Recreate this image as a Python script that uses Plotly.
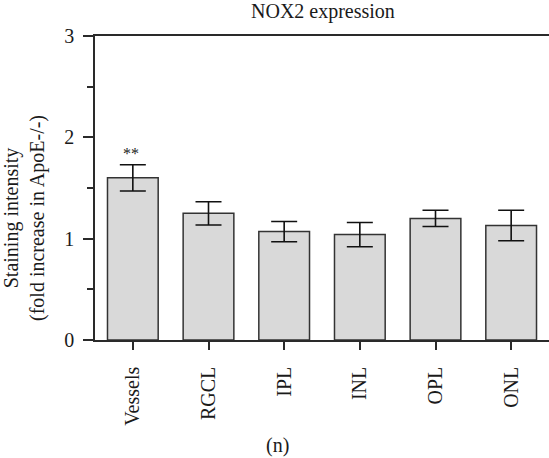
import plotly.graph_objects as go

categories = ["Vessels", "RGCL", "IPL", "INL", "OPL", "ONL"]
means = [1.60, 1.25, 1.07, 1.04, 1.20, 1.13]
errors = [0.13, 0.115, 0.10, 0.12, 0.08, 0.15]
y_ticks = [0, 1, 2, 3]
title_text = "NOX2 expression"
y_label = "Staining intensity<br>(fold increase in ApoE-/-)"
panel_label = "(n)"
sig_label = "**"

FONT = "Liberation Serif"
FS = 20
TXT = "#1a1a1a"
LINE = "#2a2a2a"

fig = go.Figure()
fig.add_trace(go.Bar(
    x=categories, y=means,
    width=0.67,
    marker=dict(color="#d9d9d9", line=dict(color="#333333", width=1.5)),
    error_y=dict(type="data", array=errors, visible=True, color="#111111",
                 thickness=1.6, width=13),
    showlegend=False,
))

fig.update_layout(
    width=549, height=458,
    margin=dict(l=95, r=0, t=36, b=118, pad=0),
    paper_bgcolor="white", plot_bgcolor="white",
    font=dict(family=FONT, size=FS, color=TXT),
)
fig.update_xaxes(
    type="category", range=[-0.5, 5.5],
    showline=True, linecolor=LINE, linewidth=1.5, mirror=True,
    ticks="outside", ticklen=8, tickwidth=1.5, tickcolor=LINE,
    tickangle=-90, tickfont=dict(family=FONT, size=FS, color=TXT),
    ticklabelstandoff=9,
    showgrid=False, zeroline=False,
)
fig.update_yaxes(
    range=[0, 3], tickvals=y_ticks, ticktext=[str(v) for v in y_ticks],
    showline=True, linecolor=LINE, linewidth=1.5,
    ticks="outside", ticklen=10, tickwidth=1.5, tickcolor=LINE,
    minor=dict(dtick=0.5, ticks="outside", ticklen=6, tickwidth=1.5, tickcolor=LINE),
    tickfont=dict(family=FONT, size=FS, color=TXT),
    ticklabelstandoff=5,
    showgrid=False, zeroline=False,
)

fig.add_annotation(text=title_text, xref="paper", yref="paper",
                   x=(323 - 95) / 454, y=(340 - 12) / 304,
                   xanchor="center", yanchor="middle", showarrow=False,
                   font=dict(family=FONT, size=FS, color=TXT))
fig.add_annotation(text=y_label, xref="paper", yref="paper",
                   x=(25 - 95) / 454, y=(340 - 218) / 304,
                   xanchor="center", yanchor="middle", textangle=-90,
                   showarrow=False,
                   font=dict(family=FONT, size=FS, color=TXT))
fig.add_annotation(text=panel_label, xref="paper", yref="paper",
                   x=(277 - 95) / 454, y=(340 - 445) / 304,
                   xanchor="center", yanchor="middle", showarrow=False,
                   font=dict(family=FONT, size=FS, color=TXT))
fig.add_annotation(text=sig_label, x=categories[0], y=means[0] + errors[0],
                   xanchor="center", yanchor="bottom", yshift=1, xshift=-2,
                   showarrow=False,
                   font=dict(family=FONT, size=16, color=TXT))

fig.write_html("out.html")
